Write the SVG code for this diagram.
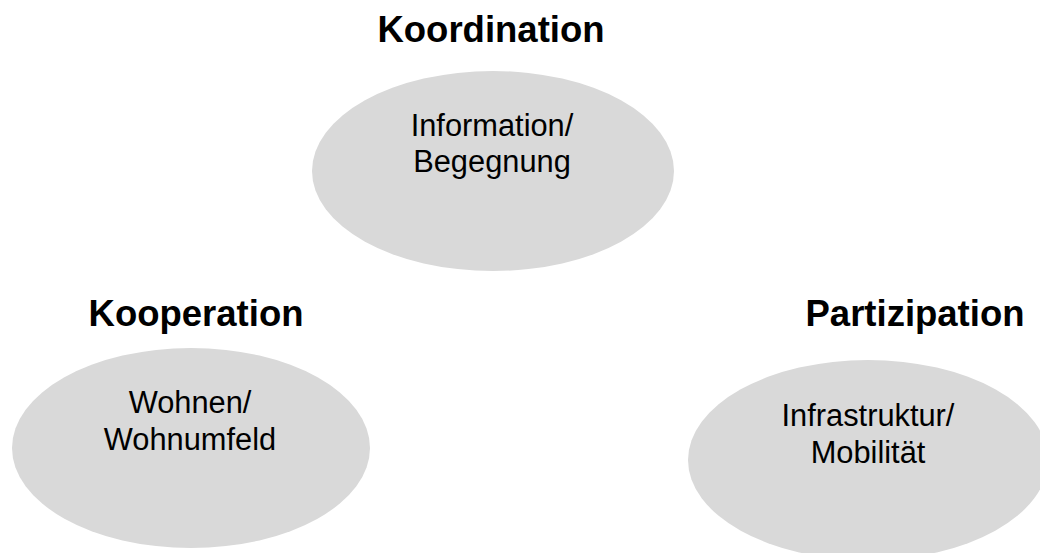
<svg xmlns="http://www.w3.org/2000/svg" width="1040" height="553" viewBox="0 0 1040 553">
<style>
.bg{fill:#ffffff}
.node{fill:#d9d9d9;stroke:none}
.head{font-family:"Liberation Sans",Arial,sans-serif;font-weight:bold;font-size:36.5px;fill:#000;text-anchor:middle}
.lbl{font-family:"Liberation Sans",Arial,sans-serif;font-size:30.8px;fill:#000;text-anchor:middle}
</style>
<rect class="bg" x="0" y="0" width="1040" height="553"/>
<g id="connectors"></g>
<g id="koordination">
<text class="head" x="491" y="42">Koordination</text>
<ellipse class="node" cx="493" cy="171" rx="181" ry="100"/>
<text class="lbl" x="492" y="136">Information/</text>
<text class="lbl" x="492" y="172">Begegnung</text>
</g>
<g id="kooperation">
<text class="head" x="196" y="326">Kooperation</text>
<ellipse class="node" cx="191" cy="448" rx="179" ry="100"/>
<text class="lbl" x="190" y="413">Wohnen/</text>
<text class="lbl" x="190" y="450">Wohnumfeld</text>
</g>
<g id="partizipation">
<text class="head" x="915" y="326">Partizipation</text>
<ellipse class="node" cx="868" cy="460" rx="180" ry="100"/>
<text class="lbl" x="868" y="426">Infrastruktur/</text>
<text class="lbl" x="868" y="463">Mobilität</text>
</g>
</svg>
